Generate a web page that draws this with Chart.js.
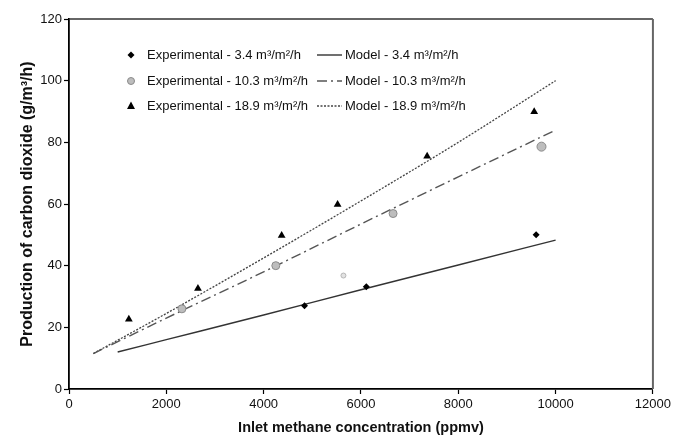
<!DOCTYPE html>
<html>
<head>
<meta charset="utf-8">
<script src="https://cdn.jsdelivr.net/npm/chart.js@4.4.1/dist/chart.umd.min.js"></script>
<style>
  html, body { margin: 0; padding: 0; background: #fff; }
  #wrap { position: relative; width: 674px; height: 439px; }
</style>
</head>
<body>
<div id="wrap"><canvas id="myChart" width="674" height="439"></canvas></div>
<script>
var exp34X = [4840, 6110, 9600];
var exp34Y = [27, 33.2, 50];
var exp103X = [2320, 4250, 5640, 6660, 9710];
var exp103Y = [26, 40, 36.8, 56.9, 78.6];
var exp189X = [1230, 2650, 4370, 5520, 7360, 9560];
var exp189Y = [22.6, 32.6, 49.8, 59.8, 75.5, 89.9];

// model curves
var model34X = [1000, 2000, 4000, 6000, 8000, 10000];
var model34Y = [12, 16, 24, 32.2, 40.2, 48.3];
var model103X = [500, 2000, 4000, 6000, 8000, 10000];
var model103Y = [11.5, 23, 38, 53.5, 68.8, 84];
var model189X = [500, 2000, 4000, 6000, 8000, 10000];
var model189Y = [11.5, 24.5, 42.5, 61, 80, 100];

var expLabels = ["Experimental - 3.4 m\u00b3/m\u00b2/h", "Experimental - 10.3 m\u00b3/m\u00b2/h", "Experimental - 18.9 m\u00b3/m\u00b2/h"];
var modelLabels = ["Model - 3.4 m\u00b3/m\u00b2/h", "Model - 10.3 m\u00b3/m\u00b2/h", "Model - 18.9 m\u00b3/m\u00b2/h"];

var xTicks = [0, 2000, 4000, 6000, 8000, 10000, 12000];
var yTicks = [0, 20, 40, 60, 80, 100, 120];

function pts(xs, ys) {
  var out = [];
  for (var i = 0; i < xs.length; i++) out.push({ x: xs[i], y: ys[i] });
  return out;
}

var FONT = "'Liberation Sans', Arial, sans-serif";

// legend drawn inside the plot, 3 rows x 2 columns
var legendPlugin = {
  id: "boxLegend",
  afterDraw: function (chart) {
    var ctx = chart.ctx;
    var rows = [55, 81, 106];
    ctx.save();
    ctx.font = "13px " + FONT;
    ctx.fillStyle = "#111";
    ctx.textBaseline = "middle";
    for (var i = 0; i < 3; i++) {
      var y = rows[i];
      // marker
      if (i === 0) {
        ctx.fillStyle = "#000";
        ctx.beginPath();
        ctx.moveTo(131, y - 3.5); ctx.lineTo(134.5, y); ctx.lineTo(131, y + 3.5); ctx.lineTo(127.5, y);
        ctx.closePath(); ctx.fill();
      } else if (i === 1) {
        ctx.fillStyle = "#bdbdbd"; ctx.strokeStyle = "#8a8a8a"; ctx.lineWidth = 1;
        ctx.beginPath(); ctx.arc(131, y, 3.5, 0, Math.PI * 2); ctx.fill(); ctx.stroke();
      } else {
        ctx.fillStyle = "#000";
        ctx.beginPath();
        ctx.moveTo(131, y - 4.5); ctx.lineTo(135, y + 3); ctx.lineTo(127, y + 3);
        ctx.closePath(); ctx.fill();
      }
      ctx.fillStyle = "#111";
      ctx.fillText(expLabels[i], 147, y);
      // line sample
      var ds = chart.data.datasets[3 + i];
      ctx.strokeStyle = ds.borderColor;
      ctx.lineWidth = ds.borderWidth;
      ctx.setLineDash(ds.borderDash || []);
      ctx.beginPath(); ctx.moveTo(317, y); ctx.lineTo(342, y); ctx.stroke();
      ctx.setLineDash([]);
      ctx.fillText(modelLabels[i], 345, y);
    }
    ctx.restore();
  }
};

// top and right edge of the frame
var framePlugin = {
  id: "frame",
  afterDraw: function (chart) {
    var a = chart.chartArea, ctx = chart.ctx;
    ctx.save();
    ctx.strokeStyle = "#333";
    ctx.lineWidth = 1.5;
    ctx.beginPath(); ctx.moveTo(a.left, a.top); ctx.lineTo(a.right, a.top); ctx.stroke();
    ctx.strokeStyle = "#666";
    ctx.lineWidth = 2;
    ctx.beginPath(); ctx.moveTo(a.right, a.top); ctx.lineTo(a.right, a.bottom); ctx.stroke();
    ctx.restore();
  }
};

var ctx = document.getElementById("myChart").getContext("2d");
var myChart = new Chart(ctx, {
  type: "scatter",
  data: {
    datasets: [
      {
        label: expLabels[0],
        data: pts(exp34X, exp34Y),
        pointStyle: "rectRot",
        pointRadius: 3.5,
        backgroundColor: "#000",
        borderColor: "#000",
        borderWidth: 0
      },
      {
        label: expLabels[1],
        data: pts(exp103X, exp103Y),
        pointStyle: "circle",
        pointRadius: [4, 4, 2.5, 4, 4.5],
        backgroundColor: ["#bdbdbd", "#bdbdbd", "#e2e2e2", "#bdbdbd", "#bdbdbd"],
        borderColor: ["#8a8a8a", "#8a8a8a", "#b5b5b5", "#8a8a8a", "#8a8a8a"],
        borderWidth: 1
      },
      {
        label: expLabels[2],
        data: pts(exp189X, exp189Y),
        pointStyle: "triangle",
        pointRadius: 4.5,
        backgroundColor: "#000",
        borderColor: "#000",
        borderWidth: 0
      },
      {
        label: modelLabels[0],
        data: pts(model34X, model34Y),
        showLine: true,
        pointRadius: 0,
        borderColor: "#333",
        borderWidth: 1.4,
        cubicInterpolationMode: "monotone"
      },
      {
        label: modelLabels[1],
        data: pts(model103X, model103Y),
        showLine: true,
        pointRadius: 0,
        borderColor: "#555",
        borderWidth: 1.4,
        borderDash: [10, 4, 2, 4],
        cubicInterpolationMode: "monotone"
      },
      {
        label: modelLabels[2],
        data: pts(model189X, model189Y),
        showLine: true,
        pointRadius: 0,
        borderColor: "#444",
        borderWidth: 1.3,
        borderDash: [2, 1.5],
        cubicInterpolationMode: "monotone"
      }
    ]
  },
  options: {
    responsive: false,
    animation: false,
    layout: { padding: { left: 0, right: 20, top: 19, bottom: 0 } },
    plugins: {
      legend: { display: false },
      tooltip: { enabled: false }
    },
    scales: {
      x: {
        type: "linear",
        min: 0,
        max: 12000,
        afterBuildTicks: function (s) { s.ticks = xTicks.map(function (v) { return { value: v }; }); },
        afterFit: function (s) { s.height = 50; },
        grid: { drawOnChartArea: false, color: "#000", tickLength: 5, tickWidth: 1.2 },
        border: { color: "#000", width: 1.8 },
        ticks: {
          color: "#111",
          font: { family: FONT, size: 13 },
          padding: 3,
          maxRotation: 0,
          callback: function (v) { return String(v); }
        },
        title: {
          display: true,
          text: "Inlet methane concentration (ppmv)",
          color: "#111",
          font: { family: FONT, size: 14.5, weight: "bold" },
          padding: { top: 0, bottom: 2 }
        }
      },
      y: {
        type: "linear",
        min: 0,
        max: 120,
        afterBuildTicks: function (s) { s.ticks = yTicks.map(function (v) { return { value: v }; }); },
        afterFit: function (s) { s.width = 69; },
        grid: { drawOnChartArea: false, color: "#000", tickLength: 5, tickWidth: 1.2 },
        border: { color: "#000", width: 1.8 },
        ticks: { color: "#111", font: { family: FONT, size: 13 }, padding: 2 },
        title: {
          display: true,
          text: "Production of carbon dioxide (g/m\u00b3/h)",
          color: "#111",
          font: { family: FONT, size: 16, weight: "bold" },
          padding: { top: 18, bottom: 0 }
        }
      }
    }
  },
  plugins: [legendPlugin, framePlugin]
});
</script>
</body>
</html>
